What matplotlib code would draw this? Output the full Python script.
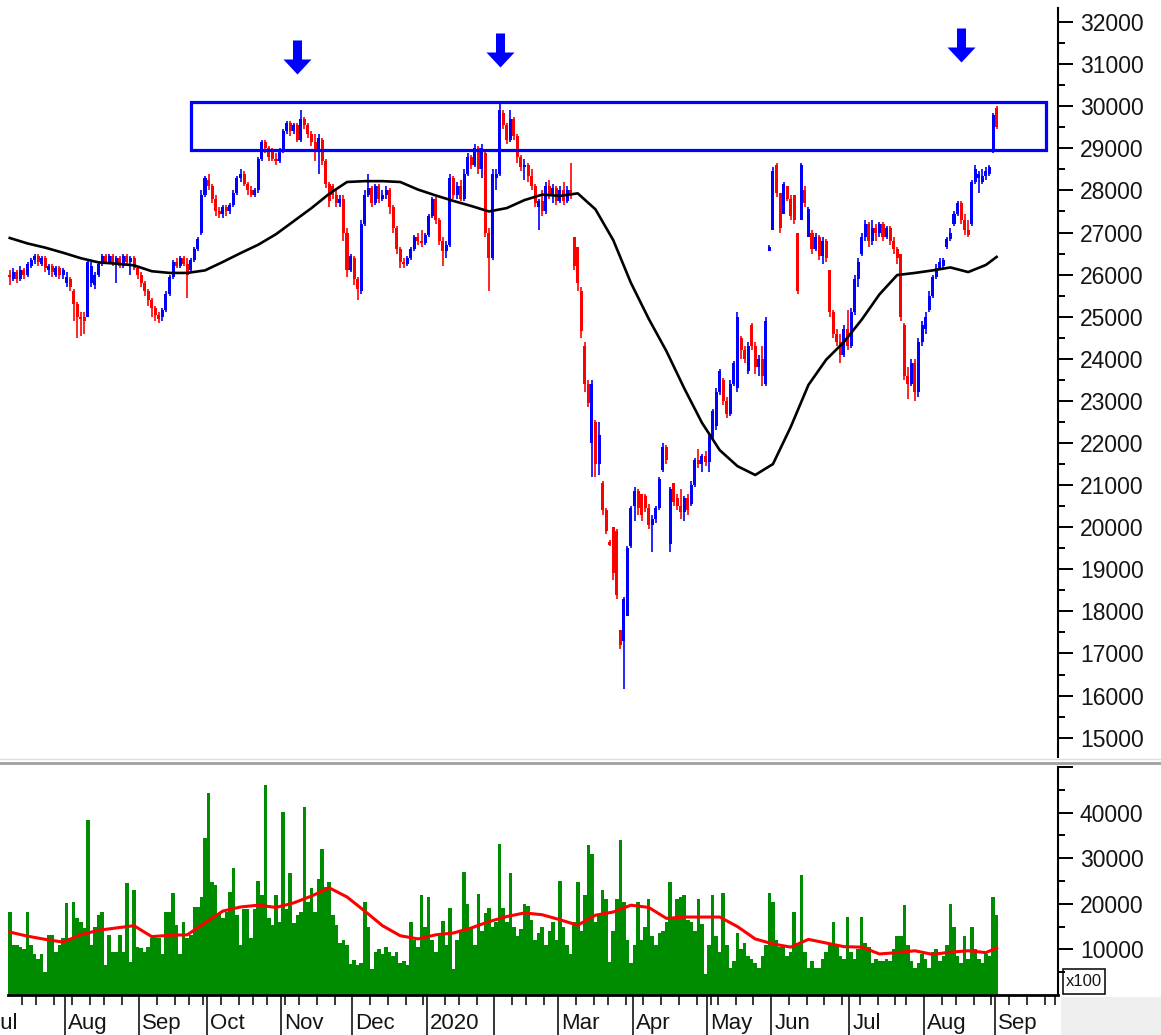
import numpy as np
import pandas as pd
import matplotlib
matplotlib.use("Agg")
import matplotlib.pyplot as plt
import matplotlib.transforms as mtransforms
from matplotlib.lines import Line2D
from matplotlib.patches import Rectangle
from matplotlib.path import Path

plt.rcParams['font.family'] = ['Liberation Sans', 'DejaVu Sans']

# --- daily candles, 2019-07-09 .. 2020-09-01 (prices in units of 10) ---
opens = [
    2600, 2590, 2605, 2590, 2610, 2600, 2620, 2635, 2645, 2625, 2640, 2610, 2620, 2600, 2615, 2600,  # Jul
    2580, 2590, 2560, 2530, 2500, 2500, 2500, 2580, 2575, 2600, 2630, 2645, 2630, 2645, 2625, 2640, 2620, 2645, 2630, 2640, 2615,  # Aug
    2600, 2580, 2560, 2540, 2520, 2505, 2500, 2515, 2555, 2595, 2630, 2620, 2640, 2625, 2610, 2635, 2660, 2700, 2790,  # Sep
    2825, 2810, 2780, 2750, 2745, 2760, 2750, 2765, 2795, 2830, 2840, 2815, 2800, 2790, 2800, 2875, 2915, 2900, 2895, 2875, 2870,  # Oct
    2895, 2940, 2960, 2940, 2955, 2920, 2970, 2955, 2935, 2915, 2895, 2920, 2870, 2815, 2810, 2790, 2770, 2780, 2700, 2610,  # Nov
    2640, 2590, 2560, 2720, 2790, 2805, 2770, 2810, 2780, 2790, 2800, 2760, 2710, 2660, 2630, 2625, 2640, 2660, 2690, 2680, 2675,  # Dec
    2695, 2740, 2780, 2730, 2680, 2655, 2670, 2830, 2790, 2810, 2780, 2840, 2880, 2860, 2900, 2850, 2890, 2700, 2640,  # Jan
    2830, 2840, 2985, 2955, 2920, 2970, 2930, 2880, 2855, 2860, 2835, 2810, 2760, 2775, 2750, 2810, 2790, 2805,  # Feb
    2775, 2800, 2775, 2800, 2690, 2665, 2560, 2430, 2340, 2200, 2250, 2150, 2105, 2040, 1965, 2000, 1990, 1755, 1730, 1790, 1955,  # Mar
    2050, 2085, 2080, 2075, 2045, 2005, 2020, 2045, 2135, 2190, 1960, 2105, 2070, 2050, 2035, 2070, 2055, 2100, 2160, 2150, 2170,  # Apr
    2155, 2215, 2240, 2320, 2350, 2300, 2270, 2340, 2330, 2450, 2420, 2370, 2480, 2430, 2380, 2400, 2340, 2655,  # May
    2705, 2860, 2795, 2745, 2810, 2780, 2790, 2700, 2730, 2800, 2690, 2700, 2660, 2690, 2645, 2680, 2610, 2510, 2460, 2440, 2410, 2470,  # Jun
    2430, 2510, 2590, 2650, 2690, 2720, 2680, 2710, 2700, 2720, 2690, 2710, 2680, 2660, 2650, 2480, 2360, 2340, 2390, 2320, 2440,  # Jul
    2470, 2515, 2550, 2595, 2615, 2620, 2665, 2685, 2720, 2745, 2770, 2730, 2705, 2720, 2820, 2830, 2820, 2835, 2840, 2895,  # Aug
    2995,  # Sep
]
highs = [
    2610, 2615, 2610, 2620, 2615, 2630, 2640, 2650, 2650, 2645, 2645, 2625, 2625, 2620, 2620, 2615,
    2605, 2595, 2565, 2535, 2510, 2510, 2635, 2630, 2605, 2630, 2650, 2650, 2650, 2650, 2645, 2645, 2650, 2650, 2645, 2645, 2620,
    2605, 2585, 2565, 2545, 2525, 2510, 2520, 2560, 2600, 2635, 2640, 2645, 2645, 2640, 2640, 2665, 2690, 2800, 2835,
    2840, 2815, 2790, 2760, 2765, 2765, 2770, 2800, 2835, 2850, 2845, 2820, 2810, 2805, 2880, 2920, 2920, 2905, 2900, 2890, 2900,
    2945, 2965, 2965, 2960, 2960, 2990, 2975, 2960, 2940, 2935, 2935, 2925, 2875, 2820, 2815, 2800, 2790, 2790, 2710, 2650,
    2645, 2595, 2730, 2800, 2840, 2810, 2815, 2815, 2800, 2810, 2805, 2765, 2715, 2665, 2640, 2645, 2665, 2695, 2700, 2705, 2700,
    2745, 2785, 2785, 2735, 2690, 2680, 2840, 2835, 2820, 2825, 2850, 2890, 2885, 2910, 2905, 2910, 2895, 2710, 2850,
    2850, 3005, 2990, 2960, 2990, 2975, 2935, 2885, 2875, 2865, 2850, 2815, 2780, 2800, 2820, 2825, 2815, 2810,
    2810, 2820, 2810, 2865, 2690, 2665, 2570, 2440, 2350, 2350, 2255, 2250, 2110, 2045, 1970, 2000, 1995, 1755, 1835, 1955, 2050,
    2095, 2090, 2080, 2080, 2055, 2030, 2050, 2120, 2200, 2195, 2095, 2105, 2080, 2090, 2075, 2080, 2110, 2165, 2185, 2175, 2180,
    2220, 2280, 2330, 2375, 2355, 2310, 2350, 2395, 2510, 2455, 2430, 2440, 2485, 2440, 2410, 2430, 2500, 2670,
    2855, 2865, 2795, 2820, 2810, 2790, 2790, 2700, 2865, 2810, 2760, 2705, 2700, 2695, 2690, 2685, 2610, 2515, 2470, 2460, 2480, 2515,
    2520, 2600, 2640, 2700, 2730, 2725, 2730, 2720, 2725, 2725, 2715, 2715, 2690, 2665, 2650, 2485, 2380, 2400, 2400, 2450, 2490,
    2510, 2560, 2600, 2625, 2640, 2640, 2690, 2710, 2750, 2775, 2775, 2745, 2730, 2825, 2860, 2845, 2850, 2855, 2860, 2985,
    3000,
]
lows = [
    2575, 2585, 2580, 2585, 2590, 2595, 2615, 2625, 2620, 2620, 2605, 2600, 2595, 2595, 2590, 2590,
    2570, 2560, 2490, 2450, 2455, 2460, 2500, 2570, 2565, 2595, 2620, 2625, 2625, 2620, 2580, 2615, 2615, 2625, 2600, 2610, 2590,
    2570, 2550, 2525, 2500, 2490, 2485, 2490, 2510, 2550, 2590, 2615, 2615, 2620, 2545, 2605, 2630, 2655, 2695, 2785,
    2800, 2770, 2740, 2735, 2735, 2740, 2745, 2760, 2790, 2820, 2810, 2790, 2785, 2785, 2795, 2870, 2890, 2870, 2870, 2860, 2865,
    2890, 2935, 2930, 2935, 2915, 2915, 2945, 2925, 2905, 2870, 2840, 2860, 2805, 2760, 2780, 2760, 2760, 2680, 2595, 2605,
    2575, 2540, 2555, 2715, 2785, 2760, 2765, 2770, 2775, 2780, 2745, 2700, 2650, 2615, 2615, 2620, 2635, 2655, 2670, 2665, 2670,
    2690, 2735, 2720, 2670, 2620, 2640, 2665, 2780, 2780, 2775, 2775, 2835, 2850, 2855, 2840, 2830, 2690, 2560, 2635,
    2800, 2835, 2945, 2910, 2915, 2920, 2865, 2845, 2825, 2820, 2800, 2760, 2705, 2740, 2745, 2780, 2770, 2765,
    2770, 2765, 2770, 2780, 2610, 2560, 2450, 2320, 2285, 2120, 2120, 2125, 2030, 1985, 1955, 1875, 1830, 1710, 1615, 1790, 1950,
    2015, 2030, 2015, 2035, 1995, 1940, 2010, 2040, 2130, 2150, 1940, 2050, 2040, 2020, 2015, 2030, 2050, 2095, 2140, 2130, 2145,
    2130, 2210, 2230, 2315, 2290, 2260, 2265, 2335, 2320, 2400, 2390, 2365, 2420, 2365, 2360, 2335, 2335, 2655,
    2705, 2785, 2700, 2745, 2775, 2730, 2720, 2555, 2730, 2760, 2690, 2650, 2655, 2635, 2625, 2630, 2500, 2450, 2430, 2390, 2405, 2420,
    2425, 2505, 2570, 2645, 2680, 2665, 2670, 2680, 2690, 2680, 2685, 2670, 2650, 2625, 2490, 2350, 2305, 2335, 2300, 2310, 2430,
    2460, 2510, 2545, 2590, 2610, 2615, 2660, 2680, 2715, 2740, 2720, 2695, 2690, 2715, 2815, 2795, 2815, 2825, 2835, 2890,
    2945,
]
closes = [
    2595, 2605, 2590, 2610, 2600, 2625, 2635, 2645, 2630, 2640, 2615, 2620, 2605, 2615, 2600, 2610,
    2595, 2570, 2530, 2500, 2495, 2490, 2630, 2620, 2600, 2625, 2645, 2630, 2645, 2625, 2640, 2620, 2645, 2630, 2640, 2615, 2600,
    2580, 2560, 2540, 2520, 2505, 2495, 2515, 2555, 2595, 2630, 2620, 2640, 2625, 2600, 2635, 2660, 2685, 2790, 2830,
    2810, 2780, 2750, 2745, 2760, 2750, 2765, 2795, 2830, 2840, 2815, 2800, 2790, 2800, 2875, 2915, 2900, 2880, 2875, 2870, 2895,
    2940, 2960, 2940, 2955, 2920, 2970, 2955, 2935, 2915, 2895, 2925, 2870, 2815, 2775, 2790, 2770, 2780, 2700, 2610, 2645,
    2590, 2565, 2720, 2790, 2805, 2770, 2810, 2780, 2790, 2800, 2760, 2710, 2660, 2630, 2625, 2640, 2660, 2690, 2680, 2675, 2695,
    2740, 2780, 2730, 2680, 2655, 2670, 2830, 2790, 2810, 2780, 2840, 2880, 2860, 2900, 2850, 2900, 2700, 2640, 2840,
    2840, 2990, 2955, 2920, 2970, 2930, 2880, 2855, 2860, 2835, 2810, 2770, 2775, 2750, 2810, 2790, 2805, 2775,
    2800, 2775, 2800, 2790, 2620, 2580, 2465, 2340, 2295, 2340, 2150, 2220, 2040, 1990, 1958, 1890, 1840, 1720, 1830, 1950, 2045,
    2085, 2045, 2030, 2045, 2005, 2020, 2045, 2115, 2190, 2160, 2090, 2060, 2050, 2035, 2070, 2040, 2100, 2160, 2150, 2170, 2155,
    2215, 2275, 2320, 2370, 2300, 2270, 2340, 2390, 2500, 2420, 2400, 2430, 2430, 2380, 2400, 2360, 2490, 2665,
    2845, 2795, 2710, 2815, 2780, 2740, 2730, 2560, 2860, 2770, 2755, 2660, 2690, 2645, 2680, 2640, 2510, 2460, 2440, 2410, 2470, 2430,
    2510, 2590, 2630, 2690, 2720, 2680, 2710, 2700, 2720, 2690, 2710, 2680, 2660, 2640, 2500, 2360, 2340, 2390, 2320, 2440, 2480,
    2500, 2550, 2595, 2615, 2630, 2635, 2685, 2700, 2745, 2770, 2730, 2705, 2695, 2820, 2850, 2840, 2835, 2845, 2855, 2980,
    2950,
]
# volume, in hundreds of the axis units (axis itself is "x100")
volume = [
    182, 110, 110, 105, 100, 182, 110, 91, 80, 91, 51, 132, 132, 95, 110, 124,
    201, 124, 205, 168, 161, 146, 384, 110, 150, 175, 182, 65, 132, 95, 95, 132, 95, 245, 72, 231, 105,
    102, 95, 105, 124, 124, 124, 91, 182, 182, 223, 153, 91, 161, 124, 132, 194, 194, 215, 345,
    442, 248, 241, 178, 168, 182, 226, 278, 175, 110, 189, 189, 124, 189, 251, 220, 460, 168, 153, 220, 161,
    402, 189, 267, 157, 175, 182, 413, 205, 234, 182, 255, 321, 237, 248, 175, 153, 115, 120, 110, 69,
    76, 65, 70, 204, 150, 57, 95, 100, 90, 105, 95, 85, 95, 70, 75, 65, 160, 120, 105, 220, 150,
    215, 120, 95, 130, 163, 110, 190, 57, 120, 140, 269, 200, 150, 110, 222, 140, 180, 190, 150,
    160, 332, 190, 160, 267, 150, 130, 145, 200, 195, 165, 120, 135, 150, 110, 140, 160, 120,
    251, 150, 110, 90, 160, 248, 140, 219, 328, 310, 160, 175, 231, 211, 72, 140, 211, 340, 204, 120, 70,
    110, 205, 120, 150, 210, 130, 110, 135, 140, 160, 248, 170, 210, 215, 220, 165, 160, 140, 210, 155, 45,
    110, 220, 130, 95, 223, 110, 60, 75, 135, 100, 114, 85, 80, 70, 60, 85, 110, 223,
    205, 120, 105, 110, 85, 95, 183, 110, 264, 95, 60, 75, 60, 60, 80, 95, 110, 160, 110, 85, 80, 170,
    95, 80, 100, 170, 115, 105, 70, 80, 75, 75, 80, 75, 100, 130, 130, 197, 110, 75, 60, 70, 90,
    80, 60, 95, 100, 75, 85, 110, 200, 150, 85, 70, 130, 80, 150, 100, 80, 70, 90, 85, 215,
    175,
]
# moving averages, one value every 5 trading days + last day
price_ma = [26870, 26740, 26640, 26520, 26390, 26290, 26260, 26220, 26080, 26040, 26040, 26100,
            26300, 26510, 26710, 26960, 27270, 27580, 27920, 28200, 28220, 28220, 28200, 28020,
            27880, 27750, 27630, 27500, 27580, 27770, 27900, 27870, 27930, 27550, 26820, 25800,
            24950, 24180, 23300, 22480, 21830, 21450, 21240, 21500, 22380, 23380, 23980, 24400,
            24930, 25530, 25990, 26040, 26100, 26170, 26060, 26230, 26420]
volume_ma = [138, 129, 122, 116, 132, 142, 147, 152, 128, 131, 132, 158, 184, 193, 197, 192,
             202, 217, 235, 215, 184, 152, 130, 123, 132, 136, 147, 161, 172, 180, 176, 165,
             153, 175, 182, 197, 192, 168, 171, 171, 171, 150, 123, 112, 105, 122, 114, 106,
             105, 90, 93, 97, 89, 94, 97, 93, 103]

month_labels = ['Jul', 'Aug', 'Sep', 'Oct', 'Nov', 'Dec', '2020', '', 'Mar', 'Apr', 'May',
                'Jun', 'Jul', 'Aug', 'Sep']
arrow_dates = ['2019-11-08', '2020-02-04', '2020-08-18']
arrow_levels = [31180, 31330, 31450]
box_dates = ('2019-09-24', '2020-09-23')
box_range = (28960, 30100)

# Tokyo market closures in the period
holidays = pd.to_datetime([
    '2019-07-15', '2019-08-12', '2019-09-16', '2019-09-23', '2019-10-14', '2019-10-22',
    '2019-11-04', '2019-12-31', '2020-01-01', '2020-01-02', '2020-01-03', '2020-01-13',
    '2020-02-11', '2020-02-24', '2020-03-20', '2020-04-29', '2020-05-04', '2020-05-05',
    '2020-05-06', '2020-07-23', '2020-07-24', '2020-08-10', '2020-09-21', '2020-09-22'])
cal = pd.bdate_range('2019-07-01', '2020-09-30')
cal = cal[~cal.isin(holidays)]


def pos(d):
    return cal.get_loc(pd.Timestamp(d))


o = np.array(opens) * 10
h = np.array(highs) * 10
lo = np.array(lows) * 10
c = np.array(closes) * 10
v = np.array(volume) * 100
n = len(c)
first = pos('2019-07-09')
x = first + np.arange(n)
ma_x = first + np.r_[np.arange(0, n - 3, 5), n - 1]

W, H = 1161, 1035
fig = plt.figure(figsize=(W / 100, H / 100), dpi=100)
xl = (first - 0.5, pos('2020-09-28') + 0.3)

# ---- price panel ----
ax = fig.add_axes([8 / W, (H - 757) / H, 1050 / W, 749 / H])
up = c >= o
cols = np.where(up, '#0000ff', '#ff0000')
ax.vlines(x, lo, h, colors=cols, lw=1.2, zorder=2)
ax.bar(x, np.maximum(np.abs(c - o), 15), bottom=np.minimum(o, c), width=0.85,
       color=cols, linewidth=0, zorder=2)
ax.plot(ma_x, price_ma, color='black', lw=1.9, zorder=3)
b0, b1 = pos(box_dates[0]), pos(box_dates[1])
ax.add_patch(Rectangle((b0, box_range[0]), b1 - b0, box_range[1] - box_range[0],
                       fill=False, edgecolor='#0000ff', lw=2.3, zorder=4))
arrow = Path([(-4.5, 17), (4.5, 17), (4.5, -2), (14, -2), (0, -17), (-14, -2),
              (-4.5, -2), (-4.5, 17)],
             [Path.MOVETO] + [Path.LINETO] * 6 + [Path.CLOSEPOLY])
for d, lev in zip(arrow_dates, arrow_levels):
    ax.plot(pos(d), lev, marker=arrow, markersize=24.5, color='#0000ff', mew=0,
            ls='none', zorder=5, clip_on=False)

for s in ['left', 'top', 'bottom']:
    ax.spines[s].set_visible(False)
ax.spines['right'].set_linewidth(1.5)
ax.yaxis.tick_right()
ax.set_yticks(np.arange(15000, 32001, 1000))
ax.set_yticks(np.arange(15500, 32001, 1000), minor=True)
ax.tick_params(axis='y', which='major', length=10.8, width=1.4, pad=5,
               labelsize=16.5, labelcolor='#151515')
ax.tick_params(axis='y', which='minor', length=5, width=1.4)
ax.set_xticks([])
ax.set_xlim(xl)
ax.set_ylim(14541, 32333)

# ---- volume panel ----
axv = fig.add_axes([8 / W, (H - 995) / H, 1050 / W, 228 / H])
axv.bar(x, v, width=1.0, color='#008c00', linewidth=0, zorder=2)
axv.plot(ma_x, np.array(volume_ma) * 100, color='#ff0000', lw=2.2, zorder=3)
for s in ['left', 'top']:
    axv.spines[s].set_visible(False)
axv.spines['right'].set_linewidth(1.5)
axv.spines['bottom'].set_linewidth(2.0)
axv.yaxis.tick_right()
axv.set_yticks([10000, 20000, 30000, 40000, 50000])
axv.set_yticklabels(['10000', '20000', '30000', '40000', ''])
axv.set_yticks(np.arange(5000, 50000, 10000), minor=True)
axv.tick_params(axis='y', which='major', length=10.8, width=1.4, pad=5,
                labelsize=16.5, labelcolor='#151515')
axv.tick_params(axis='y', which='minor', length=5, width=1.4)

mkeys = cal.to_period('M')
month_first = [int(np.where(mkeys == p)[0][0]) for p in mkeys.unique()]
wkeys = cal.to_period('W')
week_first = [int(np.where(wkeys == p)[0][0]) for p in wkeys.unique()]
week_first = [w for w in week_first if w not in month_first]
axv.set_xticks([m - 0.5 for m in month_first])
axv.set_xticks([w - 0.5 for w in week_first], minor=True)
axv.tick_params(axis='x', which='major', length=30, width=1.1, labelbottom=False)
axv.tick_params(axis='x', which='minor', length=7, width=1.1)
# set limits after the ticks so the tick list cannot widen the view
axv.set_xlim(xl)
axv.set_ylim(0, 50000)
tr = axv.get_xaxis_transform() + mtransforms.ScaledTranslation(0.03, -0.34, fig.dpi_scale_trans)
for m, lab in zip(month_first, month_labels):
    axv.text(m - 0.5, 0, lab, transform=tr, ha='left', va='baseline', fontsize=16,
             color='#151515', clip_on=False)

# ---- frame decorations ----
fig.add_artist(Line2D([0, 1], [(H - 759) / H] * 2, transform=fig.transFigure,
                      color='#dedede', lw=1.0))
fig.add_artist(Line2D([0, 1], [(H - 763) / H] * 2, transform=fig.transFigure,
                      color='#a0a0a0', lw=2.0))
fig.add_artist(Rectangle((1061 / W, 0), (W - 1061) / W, 38 / H, transform=fig.transFigure,
                         facecolor='#efefef', edgecolor='none'))
fig.add_artist(Rectangle((1063 / W, (H - 994) / H), 42 / W, 25 / H, transform=fig.transFigure,
                         fill=False, edgecolor='black', lw=1.1))
fig.text(1084 / W, (H - 981) / H, 'x100', ha='center', va='center', fontsize=12,
         color='#151515')

fig.savefig('out.png', dpi=100)
